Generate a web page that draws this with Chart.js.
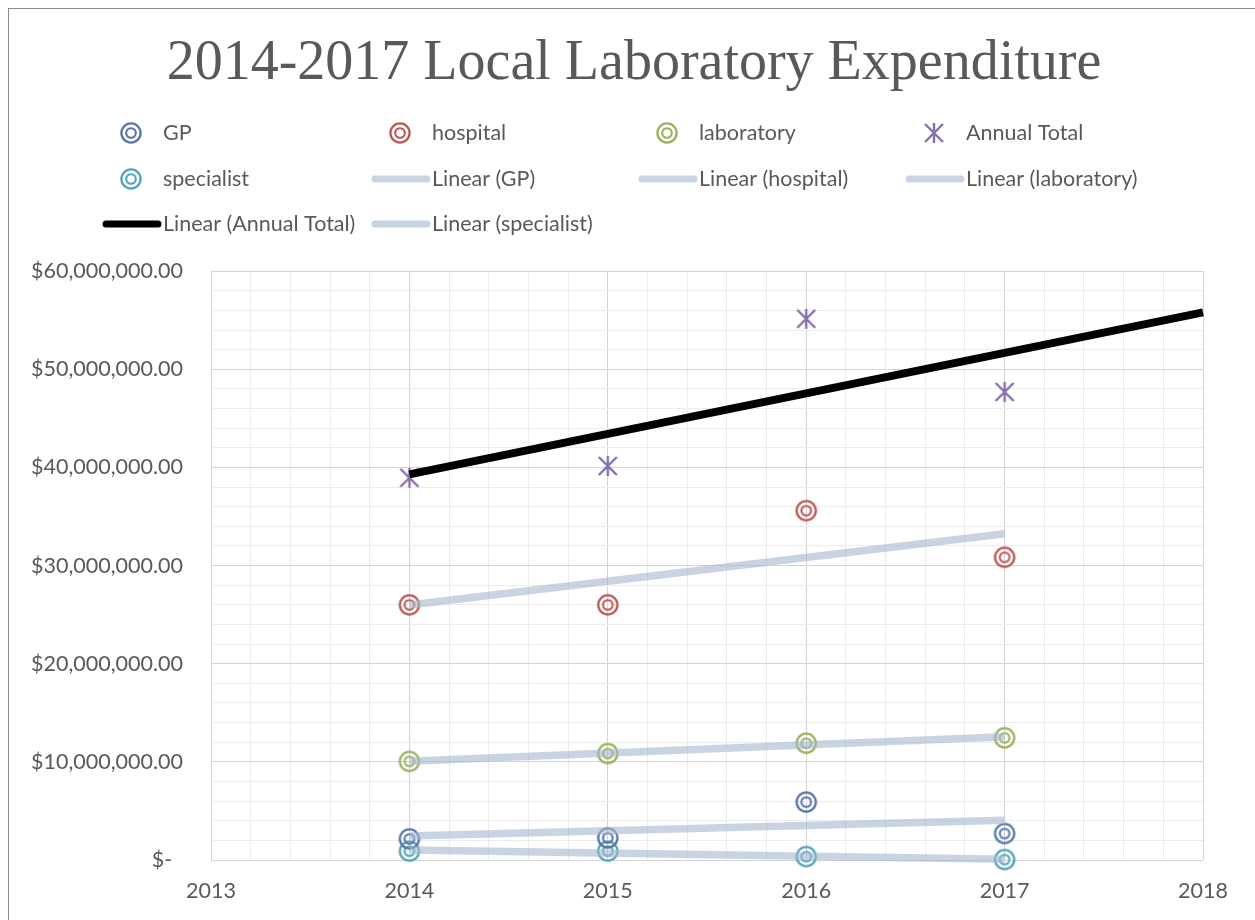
<!DOCTYPE html>
<html><head><meta charset="utf-8">
<script src="https://cdn.jsdelivr.net/npm/chart.js@4.4.1/dist/chart.umd.min.js"></script>
<style>
html,body{margin:0;padding:0;background:#fff;overflow:hidden;}
#wrap{position:relative;width:1255px;height:920px;}
#frame{position:absolute;left:8px;top:8px;width:1300px;height:1000px;border:1px solid #8c8c8c;box-sizing:border-box;pointer-events:none}
canvas{position:absolute;left:0;top:0}
</style></head><body>
<div id="wrap"><canvas id="c" width="1255" height="920"></canvas><div id="frame"></div></div>
<script>
// ---- data ----
const years = [2014, 2015, 2016, 2017];
const gp = [2150000, 2250000, 5900000, 2700000];
const hospital = [26000000, 26000000, 35600000, 30850000];
const laboratory = [10050000, 10850000, 11900000, 12450000];
const annualTotal = [38950000, 40150000, 55150000, 47700000];
const specialist = [900000, 900000, 350000, 50000];
// linear trend line end points as drawn in the reference
const trendYears = [2014, 2017];
const trendYearsTotal = [2014, 2018];
const trendGP = [2450000, 4050000];
const trendHospital = [25990000, 33240000];
const trendLaboratory = [10075000, 12550000];
const trendTotal = [39300000, 55800000];
const trendSpecialist = [1015000, 85000];
const xMin = 2013, xMax = 2018;
const yMin = 0, yMax = 60000000;
const yMajor = 10000000, yMinor = 2000000;
const xMinor = 0.2;

const TEXT = '#595959';
const FONT = 'Lato';

function ringMarker(color) {
  const c = document.createElement('canvas');
  c.width = 26; c.height = 26;
  const g = c.getContext('2d');
  g.strokeStyle = color;
  g.lineWidth = 2.3;
  g.beginPath(); g.arc(13, 13, 9.6, 0, Math.PI * 2); g.stroke();
  g.lineWidth = 2.1;
  g.beginPath(); g.arc(13, 13, 4.8, 0, Math.PI * 2); g.stroke();
  return c;
}
function starMarker(color) {
  const c = document.createElement('canvas');
  c.width = 24; c.height = 24;
  const g = c.getContext('2d');
  g.strokeStyle = color;
  g.lineWidth = 2.4;
  g.lineCap = 'butt';
  g.beginPath();
  g.moveTo(3, 3); g.lineTo(21, 21);
  g.moveTo(3, 21); g.lineTo(21, 3);
  g.moveTo(12, 2); g.lineTo(12, 22);
  g.stroke();
  return c;
}
const pts = (xs, ys) => xs.map((x, i) => ({ x: x, y: ys[i] }));

const C_GP = '#5675a8', C_HOS = '#bd5652', C_LAB = '#98b05c', C_TOT = '#8670a8', C_SPE = '#4fa2ba';
const TREND = 'rgba(165,183,207,0.6)';

function scatterDs(label, xs, ys, style) {
  return { label: label, data: pts(xs, ys), showLine: false, pointStyle: style,
    pointRadius: 10, clip: false, order: 2, borderColor: 'transparent', backgroundColor: 'transparent' };
}
function trendDs(label, xs, ys, color, width) {
  return { label: label, data: pts(xs, ys), showLine: true, pointRadius: 0,
    borderColor: color, borderWidth: width, borderCapStyle: 'butt', order: 1, clip: false, isTrend: true };
}

const datasets = [
  scatterDs('GP', years, gp, ringMarker(C_GP)),
  scatterDs('hospital', years, hospital, ringMarker(C_HOS)),
  scatterDs('laboratory', years, laboratory, ringMarker(C_LAB)),
  scatterDs('Annual Total', years, annualTotal, starMarker(C_TOT)),
  scatterDs('specialist', years, specialist, ringMarker(C_SPE)),
  trendDs('Linear (GP)', trendYears, trendGP, TREND, 7.5),
  trendDs('Linear (hospital)', trendYears, trendHospital, TREND, 7.5),
  trendDs('Linear (laboratory)', trendYears, trendLaboratory, TREND, 7.5),
  trendDs('Linear (Annual Total)', trendYearsTotal, trendTotal, '#000000', 8),
  trendDs('Linear (specialist)', trendYears, trendSpecialist, TREND, 7.5)
];

const legendPlugin = {
  id: 'xlLegend',
  afterDraw(chart) {
    const ctx = chart.ctx;
    const cols = [163, 432, 699, 966];
    const rows = [133, 179, 224];
    ctx.save();
    ctx.font = '21.5px ' + FONT;
    ctx.fillStyle = TEXT;
    ctx.textBaseline = 'middle';
    ctx.textAlign = 'left';
    chart.data.datasets.forEach((ds, i) => {
      const x = cols[i % 4], y = rows[Math.floor(i / 4)];
      if (ds.isTrend) {
        ctx.save();
        ctx.strokeStyle = ds.borderColor;
        ctx.lineWidth = 7;
        ctx.lineCap = 'round';
        ctx.beginPath(); ctx.moveTo(x - 57, y); ctx.lineTo(x - 5, y); ctx.stroke();
        ctx.restore();
      } else {
        const img = ds.pointStyle;
        ctx.drawImage(img, x - 32 - img.width / 2, y - img.height / 2);
      }
      ctx.fillText(ds.label, x, y);
    });
    ctx.restore();
  }
};

const isInt = v => Math.abs(v - Math.round(v)) < 1e-6;

new Chart(document.getElementById('c'), {
  type: 'scatter',
  data: { datasets: datasets },
  plugins: [legendPlugin],
  options: {
    responsive: false,
    animation: false,
    devicePixelRatio: 1,
    events: [],
    layout: { padding: { left: 13, right: 0, top: 0, bottom: 0 } },
    plugins: {
      legend: { display: false },
      tooltip: { enabled: false },
      title: {
        display: true,
        text: '2014-2017 Local Laboratory Expenditure',
        color: TEXT,
        font: { family: 'Liberation Serif', size: 56, weight: 'normal', lineHeight: 1.2 },
        padding: { top: 31, bottom: 173 }
      }
    },
    scales: {
      x: {
        type: 'linear', min: xMin, max: xMax,
        border: { display: false },
        grid: { drawTicks: false, lineWidth: 1,
          color: c => isInt(c.tick.value) ? '#d4d4d4' : '#ececec' },
        ticks: { stepSize: xMinor, maxTicksLimit: 100, autoSkip: false, maxRotation: 0,
          padding: 18, color: TEXT, font: { family: FONT, size: 21.5 },
          callback: v => isInt(v) ? String(Math.round(v)) : '' },
        afterFit: s => { s.height = 60; }
      },
      y: {
        type: 'linear', min: yMin, max: yMax,
        border: { display: false },
        grid: { drawTicks: false, lineWidth: 1,
          color: c => (Math.round(c.tick.value) % yMajor === 0) ? '#d4d4d4' : '#ececec' },
        ticks: { stepSize: yMinor, maxTicksLimit: 100, autoSkip: false,
          padding: 28, color: TEXT, font: { family: FONT, size: 21.5 },
          callback: v => {
            if (Math.round(v) % yMajor !== 0) return '';
            if (v === 0) return '$-\u2002';
            return '$' + v.toLocaleString('en-US', { minimumFractionDigits: 2, maximumFractionDigits: 2 });
          } },
        afterFit: s => { s.width = 198; }
      },
      yR: {
        type: 'linear', position: 'right', display: true,
        grid: { display: false }, border: { display: false },
        ticks: { display: false },
        afterFit: s => { s.width = 52; }
      }
    }
  }
});
</script>
</body></html>
